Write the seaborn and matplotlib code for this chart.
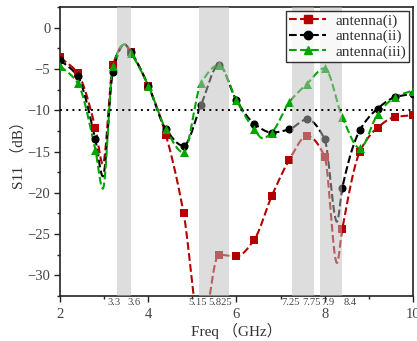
import numpy as np
import pandas as pd
import matplotlib
matplotlib.use("Agg")
import matplotlib.pyplot as plt
import matplotlib.transforms as mtransforms
from matplotlib.lines import Line2D
import seaborn as sns

# ---------------- data ----------------
freq = [2.0, 2.4, 2.8, 3.2, 3.6, 4.0, 4.4, 4.8, 5.2, 5.6, 6.0, 6.4, 6.8,
        7.2, 7.6, 8.0, 8.4, 8.8, 9.2, 9.6, 10.0]
s11_i = [-3.6, -5.5, -12.1, -4.5, -2.9, -7.0, -13.0, -22.4, -37.0, -27.5, -27.7,
         -25.7, -20.4, -16.0, -13.1, -15.6, -24.4, -15.0, -12.1, -10.8, -10.6]
s11_ii = [-3.9, -5.9, -13.5, -5.3, -2.9, -7.0, -12.3, -14.3, -9.3, -4.5, -8.8,
          -11.6, -12.7, -12.3, -11.1, -13.5, -19.4, -12.4, -9.8, -8.4, -8.0]
s11_iii = [-4.6, -6.7, -14.8, -4.6, -3.0, -7.0, -12.3, -15.1, -6.7, -4.5, -8.8,
           -12.3, -12.7, -9.0, -6.8, -4.9, -10.8, -14.6, -10.5, -8.4, -7.6]

extra_f_i = [2.97, 3.46, 8.28]
extra_v_i = [-16.5, -2.0, -28.5]
extra_f_ii = [2.97, 3.46, 8.28]
extra_v_ii = [-18.0, -2.0, -23.5]
extra_f_iii = [2.97, 3.46, 6.6]
extra_v_iii = [-19.5, -2.0, -13.4]

series_names = ["antenna(i)", "antenna(ii)", "antenna(iii)"]
series_colors = ["#B40000", "#000000", "#00A500"]
series_markers = ["s", "o", "^"]

bands = [(3.3, 3.6), (5.15, 5.825), (7.25, 7.75), (7.9, 8.4)]
band_labels = ["3.3", "3.6", "5.15", "5.825", "7.25", "7.75", "7.9", "8.4"]
band_label_pos = [3.3, 3.6, 5.15, 5.825, 7.25, 7.75, 7.9, 8.4]
# horizontal nudges of the band labels (points), as laid out in the reference
band_label_dx = [-2.5, 2.5, -1.2, -6.0, -1.0, -1.5, 5.5, 5.5]

threshold = -10


def pchip(x, y, xx):
    x = np.asarray(x, float)
    y = np.asarray(y, float)
    h = np.diff(x)
    d = np.diff(y) / h
    n = len(x)
    m = np.zeros(n)
    for k in range(1, n - 1):
        if d[k - 1] * d[k] > 0:
            w1 = 2 * h[k] + h[k - 1]
            w2 = h[k] + 2 * h[k - 1]
            m[k] = (w1 + w2) / (w1 / d[k - 1] + w2 / d[k])
    m[0] = d[0]
    m[-1] = d[-1]
    idx = np.clip(np.searchsorted(x, xx) - 1, 0, n - 2)
    t = (xx - x[idx]) / h[idx]
    h00 = 2 * t**3 - 3 * t**2 + 1
    h10 = t**3 - 2 * t**2 + t
    h01 = -2 * t**3 + 3 * t**2
    h11 = t**3 - t**2
    return h00 * y[idx] + h10 * h[idx] * m[idx] + h01 * y[idx + 1] + h11 * h[idx] * m[idx + 1]


sns.set_theme(style="ticks")
plt.rcParams["font.family"] = ["Liberation Serif", "Noto Sans CJK SC"]
plt.rcParams["axes.unicode_minus"] = True

fig = plt.figure(figsize=(4.17, 3.41), dpi=100)
ax = fig.add_axes([0.144, 0.132, 0.846, 0.847])

all_vals = [(s11_i, extra_f_i, extra_v_i), (s11_ii, extra_f_ii, extra_v_ii),
            (s11_iii, extra_f_iii, extra_v_iii)]
handles = []
for (vals, ef, ev), name, col, mk in zip(all_vals, series_names, series_colors, series_markers):
    xs = np.array(freq + ef)
    ys = np.array(vals + ev)
    order = np.argsort(xs)
    xs, ys = xs[order], ys[order]
    xx = np.linspace(xs[0], xs[-1], 800)
    yy = pchip(xs, ys, xx)
    sns.lineplot(x=xx, y=yy, ax=ax, color=col, lw=1.5, linestyle="--",
                 estimator=None, sort=False, zorder=2)
    msize = 42 if mk == "^" else 34
    sns.scatterplot(x=freq, y=vals, ax=ax, color=col, marker=mk, s=msize,
                    edgecolor=col, linewidth=0, zorder=3)
    handles.append(Line2D([], [], color=col, lw=1.5, linestyle="--", marker=mk,
                          markersize=6))

for a, b in bands:
    ax.axvspan(a, b, color="#bcbcbc", alpha=0.5, lw=0, zorder=4)

ax.axhline(threshold, color="black", lw=1.4, linestyle=(0, (1, 2.2)), zorder=5)

ax.set_xlim(2, 10)
ax.set_ylim(-32.4, 2.5)
ax.set_xticks([2, 4, 6, 8, 10])
ax.set_xticks([3, 5, 7, 9], minor=True)
ax.set_yticks([-30, -25, -20, -15, -10, -5, 0])
ax.set_yticks(np.arange(-32.5, 2.6, 2.5), minor=True)
ax.tick_params(axis="both", which="major", direction="out", length=4, width=1,
               labelsize=10.5, colors="#222222", labelcolor="#444444")
ax.tick_params(axis="x", which="major", pad=5)
ax.tick_params(axis="y", which="major", pad=3)
ax.tick_params(axis="both", which="minor", direction="out", length=2.5, width=1,
               colors="#222222")
for sp in ax.spines.values():
    sp.set_visible(True)
    sp.set_color("#222222")
    sp.set_linewidth(1.2)

base = ax.get_xaxis_transform()
for lab, pos, dx in zip(band_labels, band_label_pos, band_label_dx):
    tr = mtransforms.offset_copy(base, fig=fig, x=dx, y=-1.5, units="points")
    ax.text(pos, 0, lab, transform=tr, ha="center", va="top", fontsize=7.6,
            color="#444444")

ax.set_xlabel("Freq （GHz）", fontsize=11, color="#333333", labelpad=1)
ax.set_ylabel("S11 （dB）", fontsize=11, color="#333333", labelpad=1)

leg = ax.legend(handles, series_names, loc="upper right", frameon=True,
                fancybox=False, edgecolor="black", fontsize=11,
                handlelength=2.4, borderpad=0.2, labelspacing=0.1,
                handletextpad=0.6, borderaxespad=0.25)
leg.get_frame().set_linewidth(1.0)
for t in leg.get_texts():
    t.set_color("#333333")
leg.set_zorder(10)

fig.savefig("out.png", dpi=100)
